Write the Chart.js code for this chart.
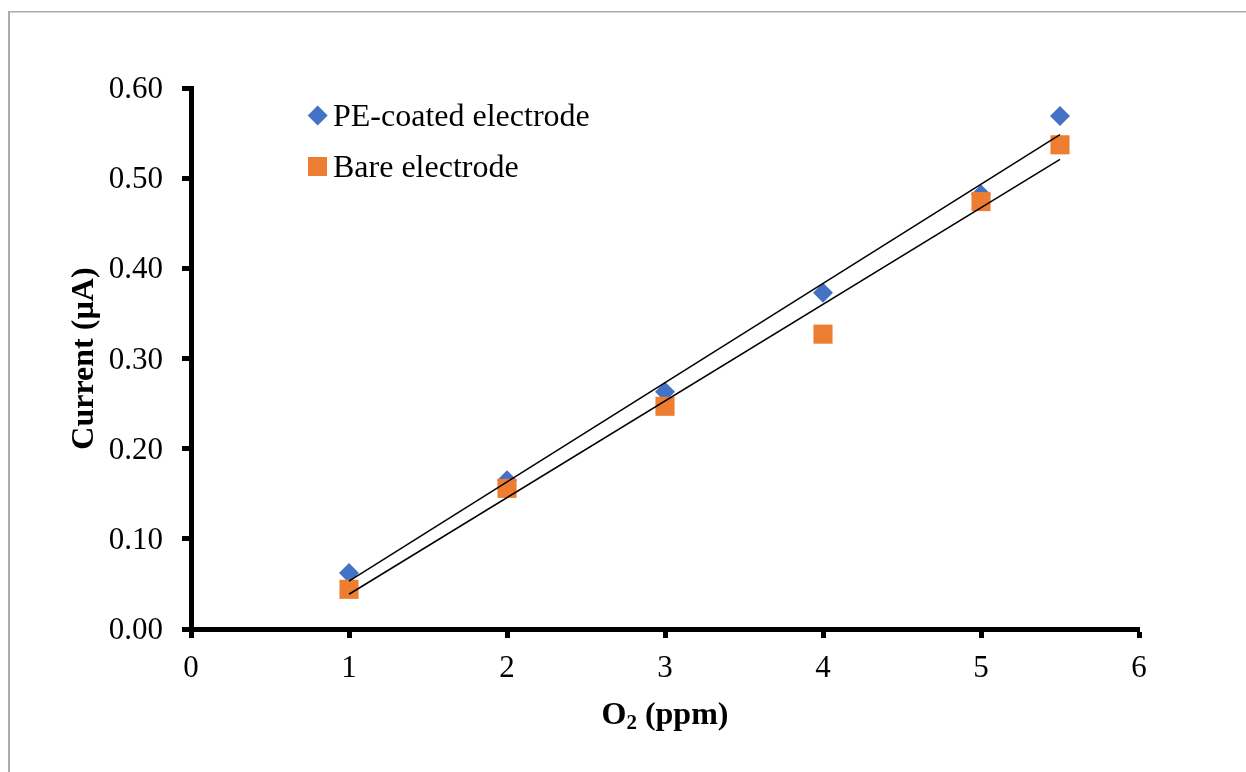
<!DOCTYPE html>
<html>
<head>
<meta charset="utf-8">
<script src="https://cdn.jsdelivr.net/npm/chart.js@4.4.0/dist/chart.umd.min.js"></script>
<style>
  html, body { margin: 0; padding: 0; background: #fff; }
  #wrap { width: 1246px; height: 772px; position: relative; }
</style>
</head>
<body>
<div id="wrap"><canvas id="c" width="1246" height="772"></canvas></div>
<script>
// ---- data ----
const xValues = [1, 2, 3, 4, 5, 5.5];                          // O2 (ppm)
const peCoated = [0.062, 0.165, 0.263, 0.373, 0.482, 0.569];   // PE-coated electrode current (µA)
const bare     = [0.044, 0.156, 0.247, 0.327, 0.474, 0.537];   // Bare electrode current (µA)
const seriesNames = ['PE-coated electrode', 'Bare electrode'];
const xTicks = [0, 1, 2, 3, 4, 5, 6];
const yTicks = [0, 0.1, 0.2, 0.3, 0.4, 0.5, 0.6];
const xTitle = ['O', '2', ' (ppm)'];
const yTitle = 'Current (µA)';

const BLUE = '#4472C4', ORANGE = '#ED7D31';
const FONT = "'Liberation Serif', 'Times New Roman', serif";

function toPoints(xs, ys) { return xs.map((x, i) => ({ x: x, y: ys[i] })); }
// least-squares linear trendline (as the original chart's trendline)
function trend(xs, ys) {
  const n = xs.length;
  const mx = xs.reduce((a, b) => a + b, 0) / n;
  const my = ys.reduce((a, b) => a + b, 0) / n;
  let sxy = 0, sxx = 0;
  for (let i = 0; i < n; i++) { sxy += (xs[i] - mx) * (ys[i] - my); sxx += (xs[i] - mx) ** 2; }
  const m = sxy / sxx, b = my - m * mx;
  const x0 = Math.min(...xs), x1 = Math.max(...xs);
  return [{ x: x0, y: m * x0 + b }, { x: x1, y: m * x1 + b }];
}

const framePlugin = {
  id: 'frame',
  beforeDraw(chart) {
    const ctx = chart.ctx;
    ctx.save();
    ctx.fillStyle = '#fff';
    ctx.fillRect(0, 0, chart.width, chart.height);
    ctx.fillStyle = '#ababab';
    ctx.fillRect(8, 11, 2, chart.height - 11);
    ctx.fillRect(8, 11, chart.width - 8, 1.5);
    ctx.restore();
  }
};

const textPlugin = {
  id: 'texts',
  afterDraw(chart) {
    const ctx = chart.ctx;
    const ca = chart.chartArea;
    ctx.save();
    ctx.fillStyle = '#000';
    // y title
    ctx.font = 'bold 32px ' + FONT;
    ctx.textAlign = 'center';
    ctx.textBaseline = 'alphabetic';
    ctx.translate(93, (ca.top + ca.bottom) / 2);
    ctx.rotate(-Math.PI / 2);
    ctx.fillText(yTitle, 0, 0);
    ctx.setTransform(1, 0, 0, 1, 0, 0);
    // x title with subscript
    ctx.textAlign = 'left';
    const big = 'bold 32px ' + FONT, small = 'bold 21px ' + FONT;
    ctx.font = big; const w0 = ctx.measureText(xTitle[0]).width;
    ctx.font = small; const w1 = ctx.measureText(xTitle[1]).width;
    ctx.font = big; const w2 = ctx.measureText(xTitle[2]).width;
    let x = (ca.left + ca.right) / 2 - (w0 + w1 + w2) / 2;
    const base = 724;
    ctx.font = big; ctx.fillText(xTitle[0], x, base); x += w0;
    ctx.font = small; ctx.fillText(xTitle[1], x, base + 5); x += w1;
    ctx.font = big; ctx.fillText(xTitle[2], x, base);
    // legend
    ctx.font = '32px ' + FONT;
    ctx.fillStyle = BLUE;
    ctx.beginPath();
    const dx = 317.7, dy = 115.5, r = 10;
    ctx.moveTo(dx, dy - r); ctx.lineTo(dx + r, dy); ctx.lineTo(dx, dy + r); ctx.lineTo(dx - r, dy); ctx.closePath();
    ctx.fill();
    ctx.fillStyle = ORANGE;
    ctx.fillRect(308, 157, 19, 19);
    ctx.fillStyle = '#000';
    ctx.fillText(seriesNames[0], 333, 126);
    ctx.fillText(seriesNames[1], 333, 177);
    ctx.restore();
  }
};

const chart = new Chart(document.getElementById('c'), {
  type: 'scatter',
  data: {
    datasets: [
      { label: 'trend-pe', type: 'line', data: trend(xValues, peCoated), borderColor: '#000', borderWidth: 1.5,
        pointRadius: 0, fill: false, order: 0 },
      { label: 'trend-bare', type: 'line', data: trend(xValues, bare), borderColor: '#000', borderWidth: 1.5,
        pointRadius: 0, fill: false, order: 0 },
      { label: seriesNames[1], data: toPoints(xValues, bare), pointStyle: 'rect', pointRadius: 13.5,
        backgroundColor: ORANGE, borderColor: ORANGE, borderWidth: 0, order: 1 },
      { label: seriesNames[0], data: toPoints(xValues, peCoated), pointStyle: 'rectRot', pointRadius: 10,
        backgroundColor: BLUE, borderColor: BLUE, borderWidth: 0, order: 2 }
    ]
  },
  options: {
    responsive: false,
    animation: false,
    devicePixelRatio: 1,
    layout: { padding: { left: 0, top: 88, right: 107, bottom: 0 } },
    plugins: { legend: { display: false }, tooltip: { enabled: false } },
    scales: {
      x: {
        type: 'linear', min: 0, max: 6,
        afterBuildTicks(scale) { scale.ticks = xTicks.map(v => ({ value: v })); },
        afterFit(scale) { scale.height = 772 - 629; },
        ticks: { color: '#000', font: { family: FONT, size: 31 }, padding: 12, callback: v => String(v) },
        grid: { display: true, drawOnChartArea: false, drawTicks: true, tickLength: 9, tickWidth: 5, tickColor: '#000' },
        border: { display: true, color: '#000', width: 5 }
      },
      y: {
        type: 'linear', min: 0, max: 0.6,
        afterBuildTicks(scale) { scale.ticks = yTicks.map(v => ({ value: v })); },
        afterFit(scale) { scale.width = 191; },
        ticks: { color: '#000', font: { family: FONT, size: 31 }, padding: 19, labelOffset: 2, callback: v => Number(v).toFixed(2) },
        grid: { display: true, drawOnChartArea: false, drawTicks: true, tickLength: 9, tickWidth: 5, tickColor: '#000' },
        border: { display: true, color: '#000', width: 5 }
      }
    }
  },
  plugins: [framePlugin, textPlugin]
});
</script>
</body>
</html>
